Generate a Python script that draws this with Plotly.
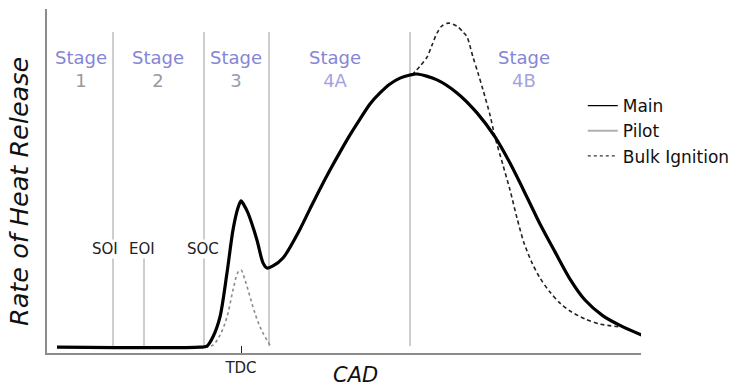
import plotly.graph_objects as go

# ---- data (CAD in degrees relative to TDC, heat release in arbitrary units) ----
main_cad = [-36.8, -8.2, -6.8, -5.6, -4.2, -2.8, -1.6, -0.6, 0.0, 0.6, 1.4, 3.2, 4.4, 5.2, 6.4,
            8.4, 11.8, 13.8, 15.8, 17.8, 19.8, 21.8, 23.8, 25.8, 27.8, 29.8, 31.8, 33.8, 35.2,
            39.2, 43.2, 47.2, 50.8, 53.8, 57.2, 59.8, 62.8, 65.8, 68.8, 72.4, 76.4, 80.2]
main_hrr = [1.7, 1.7, 2.0, 4.7, 10.5, 23.3, 35.8, 42.2, 44.2, 43.0, 40.7, 32.8, 26.2, 24.7, 25.3,
            27.6, 36.0, 41.9, 47.7, 53.2, 58.4, 63.4, 68.0, 72.4, 75.6, 78.2, 79.9, 80.8, 81.1,
            79.4, 75.6, 69.8, 62.8, 55.2, 45.3, 37.5, 29.4, 21.5, 15.4, 10.8, 7.6, 5.2]

pilot_cad = [-7.2, -5.6, -4.2, -2.8, -1.6, -0.6, 0.0, 0.8, 2.4, 3.4, 4.4, 5.8]
pilot_hrr = [1.7, 2.3, 5.2, 10.5, 18.3, 23.5, 24.1, 21.2, 13.4, 9.0, 5.8, 2.3]

bulk_cad = [34.2, 35.8, 37.2, 38.2, 39.2, 40.2, 41.4, 42.4, 43.4, 44.4, 45.2, 46.4, 47.4, 48.4,
            49.8, 50.8, 52.4, 53.8, 55.2, 56.6, 58.2, 59.8, 61.8, 63.8, 65.8, 68.8, 71.8, 75.8]
bulk_hrr = [80.8, 83.4, 86.0, 89.5, 93.0, 95.1, 95.9, 95.6, 94.8, 93.3, 91.9, 86.0, 81.4, 76.5,
            69.2, 62.8, 54.6, 47.4, 39.2, 32.0, 26.2, 21.8, 17.7, 14.5, 12.2, 9.9, 8.4, 7.6]

# stage boundary / event lines: position, top, bottom
event_cad = [-25.6, -19.4, -7.4, 5.6, 33.8]
event_top = [93.3, 27.9, 93.3, 93.3, 93.3]
event_bottom = [2.0, 2.0, 2.0, 2.0, 2.0]

event_labels = ["SOI", "EOI", "SOC"]
event_label_cad = [-27.2, -19.8, -7.6]
event_label_hrr = 30.2

stage_names = ["1", "2", "3", "4A", "4B"]
stage_cad = [-32.1, -16.7, -1.0, 18.7, 56.5]
stage_num_colors = ["#9a9a9a", "#9a9a9a", "#9a9aae", "#a3a3e0", "#a3a3e0"]
stage_hrr = 82.6

legend_names = ["Main", "Pilot", "Bulk Ignition"]

FONT = "DejaVu Sans"

fig = go.Figure()

# stage / event lines
for xv, yt, yb in zip(event_cad, event_top, event_bottom):
    fig.add_trace(go.Scatter(x=[xv, xv], y=[yb, yt], mode="lines",
                             line=dict(color="#9c9c9c", width=1),
                             showlegend=False, hoverinfo="skip"))

# curves
fig.add_trace(go.Scatter(x=pilot_cad, y=pilot_hrr, mode="lines",
                         line=dict(color="#8a8a8a", width=1.6, dash="dot", shape="spline"),
                         showlegend=False))
fig.add_trace(go.Scatter(x=bulk_cad, y=bulk_hrr, mode="lines",
                         line=dict(color="#222222", width=1.6, dash="4px,3px", shape="spline",
                                   smoothing=0.8),
                         showlegend=False))
fig.add_trace(go.Scatter(x=main_cad, y=main_hrr, mode="lines",
                         line=dict(color="black", width=3.2, shape="spline", smoothing=0.8),
                         showlegend=False))

# legend entries
legend_styles = [dict(color="black", width=1.4),
                 dict(color="#b0b0b0", width=2),
                 dict(color="#333333", width=1.2, dash="dot")]
for name, st in zip(legend_names, legend_styles):
    fig.add_trace(go.Scatter(x=[None], y=[None], mode="lines", name=name, line=st))

# event labels
for lab, xv in zip(event_labels, event_label_cad):
    fig.add_annotation(x=xv, y=event_label_hrr, text=lab, showarrow=False,
                       font=dict(family=FONT, size=15, color="#222"),
                       bgcolor="white", borderpad=0)

# stage labels
for name, xv, col in zip(stage_names, stage_cad, stage_num_colors):
    fig.add_annotation(x=xv, y=stage_hrr,
                       text=f"<span style='color:#8585d6'>Stage</span><br><span style='color:{col}'>{name}</span>",
                       showarrow=False, font=dict(family=FONT, size=18))

# axis titles
fig.add_annotation(x=22.8, xref="x", y=0, yref="paper", yshift=-22, yanchor="middle",
                   xanchor="center", text="<i>CAD</i>",
                   showarrow=False, font=dict(family=FONT, size=21, color="#111"))
fig.add_annotation(x=0, xref="paper", xshift=-28, xanchor="center", y=46.8, yref="y",
                   yanchor="middle", text="<i>Rate of Heat Release</i>", textangle=-90,
                   showarrow=False, font=dict(family=FONT, size=25.5, color="#111"))

fig.update_layout(
    width=737, height=389,
    margin=dict(l=47, r=96, t=9, b=36, autoexpand=False),
    paper_bgcolor="white", plot_bgcolor="white",
    font=dict(family=FONT, color="#111"),
    legend=dict(x=0.902, xanchor="left", y=0.77, yanchor="top",
                font=dict(family=FONT, size=17, color="#111"),
                bgcolor="rgba(0,0,0,0)", tracegroupgap=0, itemwidth=30),
    showlegend=True,
)
fig.update_xaxes(range=[-38.8, 80.0], showgrid=False, zeroline=False,
                 showline=True, linecolor="#8c8c8c", linewidth=2,
                 tickvals=[0], ticktext=["TDC"], ticks="inside", ticklen=7,
                 tickcolor="#222", tickwidth=1,
                 tickfont=dict(family=FONT, size=15, color="#222"))
fig.update_yaxes(range=[0, 100], showgrid=False, zeroline=False,
                 showline=True, linecolor="#8c8c8c", linewidth=2,
                 showticklabels=False, ticks="")

fig.write_html("out.html")
